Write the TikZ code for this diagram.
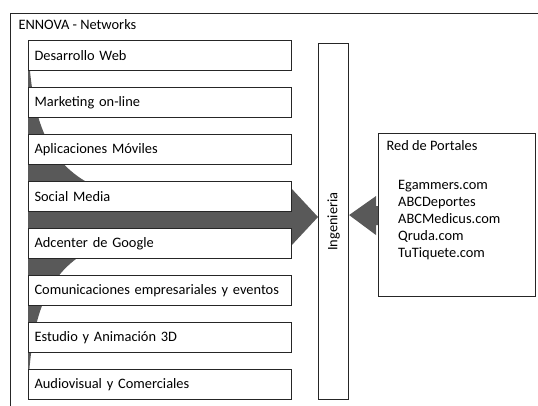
\documentclass[tikz,border=0pt]{standalone}
\usepackage{fontspec}
\setmainfont{Carlito}
\usetikzlibrary{calc}
\definecolor{arrowgray}{RGB}{89,89,89}
\definecolor{linegray}{RGB}{38,38,38}
\tikzset{
  txt/.style={font=\fontsize{14.4}{17}\selectfont, text=black},
  item/.style={txt, draw=linegray, line width=1.1pt, fill=white, anchor=north west,
    minimum width=263pt, minimum height=30pt, text width=251pt, inner xsep=6pt, align=left},
  panel/.style={draw=linegray, line width=1.1pt, fill=white, anchor=north west}
}
\begin{document}
\begin{tikzpicture}[x=1pt,y=-1pt]
\clip (0,0) rectangle (538,405);
\draw [linegray, line width=0.9pt](10,420) -- (10,13) -- (550,13);
\node[txt, anchor=west] (title) at (15,25) {ENNOVA - Networks};
\node[panel, minimum width=30pt, minimum height=356pt] (ing) at (318,43) {};
\node[txt, rotate=90] (inglabel) at (ing.center) {Ingenieria};
\coordinate (mid) at (0,217);
\fill [arrowgray](28,40) .. controls (32,150) and (60,204) .. (200,204) -- (291,204) -- (291,188)
  -- (ing.west |- mid) -- (291,246) -- (291,230) -- (200,230) .. controls (60,230) and (32,284) .. (28,394) -- cycle;
\node[item] (web) at (28,40) {Desarrollo Web};
\node[item] (mkt) at (28,87) {Marketing on-line};
\node[item] (apps) at (28,134) {Aplicaciones Móviles};
\node[item] (social) at (28,181) {Social Media};
\node[item] (adc) at (28,228) {Adcenter de Google};
\node[item] (com) at (28,275) {Comunicaciones empresariales y eventos};
\node[item] (anim) at (28,322) {Estudio y Animación 3D};
\node[item] (av) at (28,369) {Audiovisual y Comerciales};
\node[panel, minimum width=157pt, minimum height=163pt] (red) at (378,133) {};
\node[txt, anchor=west] (redtitle) at (383,146) {Red de Portales};
\node[txt, anchor=north west, align=left, inner sep=0pt] (sites) at (398,180)
  {Egammers.com\\ABCDeportes\\ABCMedicus.com\\Qruda.com\\TuTiquete.com};
\fill [arrowgray]($(red.west)+(0,-9)$) -- ++(-2,0) -- ++(0,-10) -- (ing.east |- red.west)
  -- ($(red.west)+(-2,20)$) -- ++(0,-10) -- ($(red.west)+(0,10)$) -- cycle;
\end{tikzpicture}
\end{document}
